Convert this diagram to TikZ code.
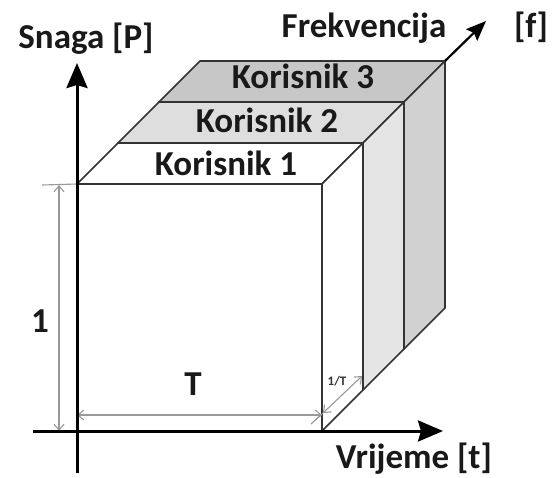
\documentclass[tikz,border=0pt]{standalone}
\usepackage{fontspec}
\setmainfont{Carlito}
\usetikzlibrary{arrows.meta,calc}
\begin{document}
\begin{tikzpicture}[x=1pt,y=-1pt,
  lbl/.style={font=\fontsize{35}{40}\selectfont\bfseries, inner sep=0pt, text=black!90, anchor=base},
  small/.style={font=\fontsize{13}{15}\selectfont\bfseries, inner sep=0pt, text=black!80},
  axisline/.style={line width=3pt, -{Stealth[length=25pt,width=21pt,inset=3pt]}},
  freqline/.style={line width=2.2pt, -{Stealth[length=20pt,width=16pt,inset=3pt]}},
  boxedge/.style={draw=black!80, line width=1.6pt, line join=round},
  dimline/.style={draw=black!40, line width=1.1pt, {Straight Barb[length=6pt,width=10pt]}-{Straight Barb[length=6pt,width=10pt]}},
  extline/.style={draw=black!40, line width=1.1pt}]
\useasboundingbox (0,0) rectangle (552,477);
% key points
\coordinate (O) at (77,431);
\coordinate (A) at (322,431);
\coordinate (B) at (322,184);
\coordinate (C) at (77,184);
\coordinate (A1) at (363,390);
\coordinate (B1) at (363,143);
\coordinate (C1) at (118,143);
\coordinate (A2) at (404,349);
\coordinate (B2) at (404,102);
\coordinate (C2) at (159,102);
\coordinate (A3) at (445,308);
\coordinate (B3) at (445,61);
\coordinate (C3) at (200,61);
% slab 3
\draw[boxedge, fill=black!22] (C2) -- (B2) -- (B3) -- (C3) -- cycle;
\draw[boxedge, fill=black!18] (B2) -- (B3) -- (A3) -- (A2) -- cycle;
% slab 2
\draw[boxedge, fill=black!13] (C1) -- (B1) -- (B2) -- (C2) -- cycle;
\draw[boxedge, fill=black!10] (B1) -- (B2) -- (A2) -- (A1) -- cycle;
% slab 1
\draw[boxedge, fill=white] (C) -- (B) -- (B1) -- (C1) -- cycle;
\draw[boxedge, fill=white] (B) -- (B1) -- (A1) -- (A) -- cycle;
% front face
\draw[boxedge, fill=white] (O) -- (A) -- (B) -- (C) -- cycle;
% dimensions
\coordinate (d1a) at (59,185);
\coordinate (d1b) at (59,431);
\coordinate (e1) at (42,185);
\draw[extline] (e1) -- (C);
\draw[dimline] (d1a) -- (d1b);
\coordinate (dTa) at (77,415);
\coordinate (dTb) at (322,415);
\draw[dimline] (dTa) -- (dTb);
\coordinate (dfa) at (323,413);
\coordinate (dfb) at (362,376);
\coordinate (dfe) at (311,424);
\draw[extline] (dfe) -- (dfa);
\draw[dimline] (dfa) -- (dfb);
% axes
\coordinate (vbot) at (77,473);
\coordinate (vtop) at (77,63);
\coordinate (hleft) at (33,431);
\coordinate (hright) at (443,431);
\coordinate (ftip) at (486,21);
\draw[axisline] (vbot) -- (vtop);
\draw[axisline] (hleft) -- (hright);
\draw[freqline] (B3) -- (ftip);
% labels
\node[lbl] (snaga) at (86,48) {Snaga [P]};
\node[lbl] (frek) at (364,37) {Frekvencija};
\node[lbl] (f) at (531,37) {[f]};
\node[lbl] (vrij) at (414,468) {Vrijeme [t]};
\node[lbl] (k1) at (226,175) {Korisnik 1};
\node[lbl] (k2) at (267,132) {Korisnik 2};
\node[lbl] (k3) at (303,88) {Korisnik 3};
\node[lbl] (one) at (40,332) {1};
\node[lbl] (T) at (193,395) {T};
\node[small] (invT) at (337,381) {1/T};
\end{tikzpicture}
\end{document}
